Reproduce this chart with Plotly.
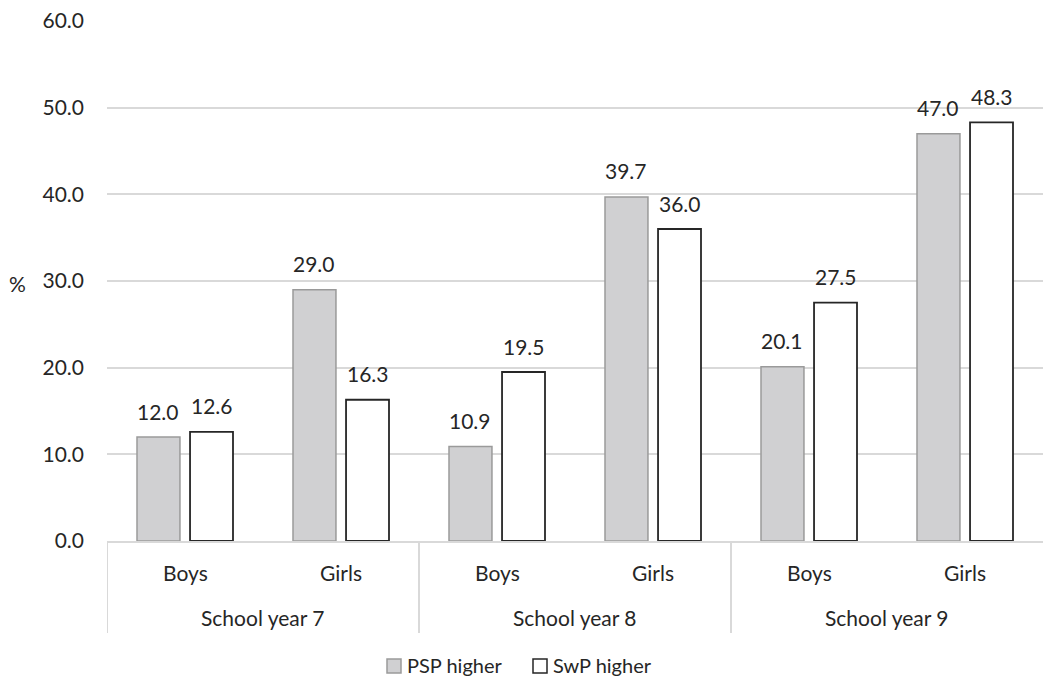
import plotly.graph_objects as go

# Grouped data: school year (outer) x gender (inner)
school_years = ["School year 7", "School year 8", "School year 9"]
genders = ["Boys", "Girls"]
psp_higher = [12.0, 29.0, 10.9, 39.7, 20.1, 47.0]
swp_higher = [12.6, 16.3, 19.5, 36.0, 27.5, 48.3]
y_ticks = [0, 10, 20, 30, 40, 50, 60]
series_names = ["PSP higher", "SwP higher"]

# one category key per (year, gender) bar group
pairs = [(yr, g) for yr in school_years for g in genders]
cat_keys = [f"{yr} / {g}" for yr, g in pairs]

font = "Lato"
fs = 21
ink = "#262626"
grid = "#d9d9d9"
psp_fill, psp_edge = "#d0d0d2", "#9a9a9a"
swp_fill, swp_edge = "#ffffff", ink

W, H = 1043, 680
L, T = 107, 21
PLOT_BOTTOM = 541               # pixel row of y = 0
DOM_H = PLOT_BOTTOM - T         # height of the y domain in px
PLOT_W = W - L
BARGAP, GROUPGAP = 0.32, 0.19


def dom_y(px):
    """pixel row -> y-domain fraction"""
    return (PLOT_BOTTOM - px) / DOM_H


def dom_x(px):
    """pixel column -> x-domain fraction"""
    return (px - L) / PLOT_W


fig = go.Figure()
fig.add_trace(go.Bar(
    x=cat_keys, y=psp_higher, name=series_names[0], showlegend=False,
    marker=dict(color=psp_fill, line=dict(color=psp_edge, width=1.5)),
))
fig.add_trace(go.Bar(
    x=cat_keys, y=swp_higher, name=series_names[1], showlegend=False,
    marker=dict(color=swp_fill, line=dict(color=swp_edge, width=1.8)),
))

fig.update_layout(
    width=W, height=H,
    margin=dict(l=L, r=0, t=T, b=0, autoexpand=False),
    plot_bgcolor="white", paper_bgcolor="white",
    barmode="group", bargap=BARGAP, bargroupgap=GROUPGAP,
)
fig.update_xaxes(
    type="category", showline=True, linecolor=grid, linewidth=2,
    showticklabels=False, ticks="", automargin=False, range=[-0.5, 5.5],
)
fig.update_yaxes(
    range=[0, 60], tickvals=y_ticks, tickformat=".1f",
    domain=[(H - PLOT_BOTTOM) / (H - T), 1],
    showgrid=True, gridcolor=grid, gridwidth=1.5,
    zeroline=False, showline=False, ticks="", automargin=False,
    tickfont=dict(family=font, size=fs, color=ink), ticklabelstandoff=22,
)

# value labels above each bar (PSP bars sit left of centre, SwP right)
cat_w = PLOT_W / 6
offset_px = cat_w * (1 - BARGAP) / 4
for series, shift in ((psp_higher, -offset_px), (swp_higher, offset_px)):
    for key, v in zip(cat_keys, series):
        fig.add_annotation(x=key, y=v, text=f"{v:.1f}", showarrow=False,
                           xshift=shift, yshift=26, yanchor="middle",
                           font=dict(family=font, size=fs, color=ink))

# inner (gender) and outer (school year) axis labels with group dividers
for key, (yr, g) in zip(cat_keys, pairs):
    fig.add_annotation(x=key, y=dom_y(572), yref="y domain", text=g, showarrow=False,
                       yanchor="middle", font=dict(family=font, size=fs, color=ink))
for i, yr in enumerate(school_years):
    fig.add_annotation(x=2 * i + 0.5, y=dom_y(617), yref="y domain", text=yr, showarrow=False,
                       yanchor="middle", font=dict(family=font, size=fs, color=ink))
    fig.add_shape(type="line", xref="x", yref="y domain", x0=2 * i - 0.5, x1=2 * i - 0.5,
                  y0=0, y1=dom_y(633), line=dict(color=grid, width=2))

# axis title
fig.add_annotation(text="%", xref="x domain", yref="y domain", x=dom_x(7), y=dom_y(283),
                   showarrow=False, xanchor="left", yanchor="middle",
                   font=dict(family=font, size=fs, color=ink))

# legend: swatch + label per series
legend_items = [(series_names[0], psp_fill, psp_edge, 387),
                (series_names[1], swp_fill, swp_edge, 533)]
for name, fill, edge, x_px in legend_items:
    fig.add_shape(type="rect", xref="x domain", yref="y domain",
                  x0=dom_x(x_px), x1=dom_x(x_px + 14), y0=dom_y(659), y1=dom_y(673),
                  fillcolor=fill, line=dict(color=edge, width=1.5))
    fig.add_annotation(text=name, xref="x domain", yref="y domain",
                       x=dom_x(x_px + 18), y=dom_y(665), showarrow=False,
                       xanchor="left", yanchor="middle",
                       font=dict(family=font, size=20, color=ink))

fig.write_html("out.html")
